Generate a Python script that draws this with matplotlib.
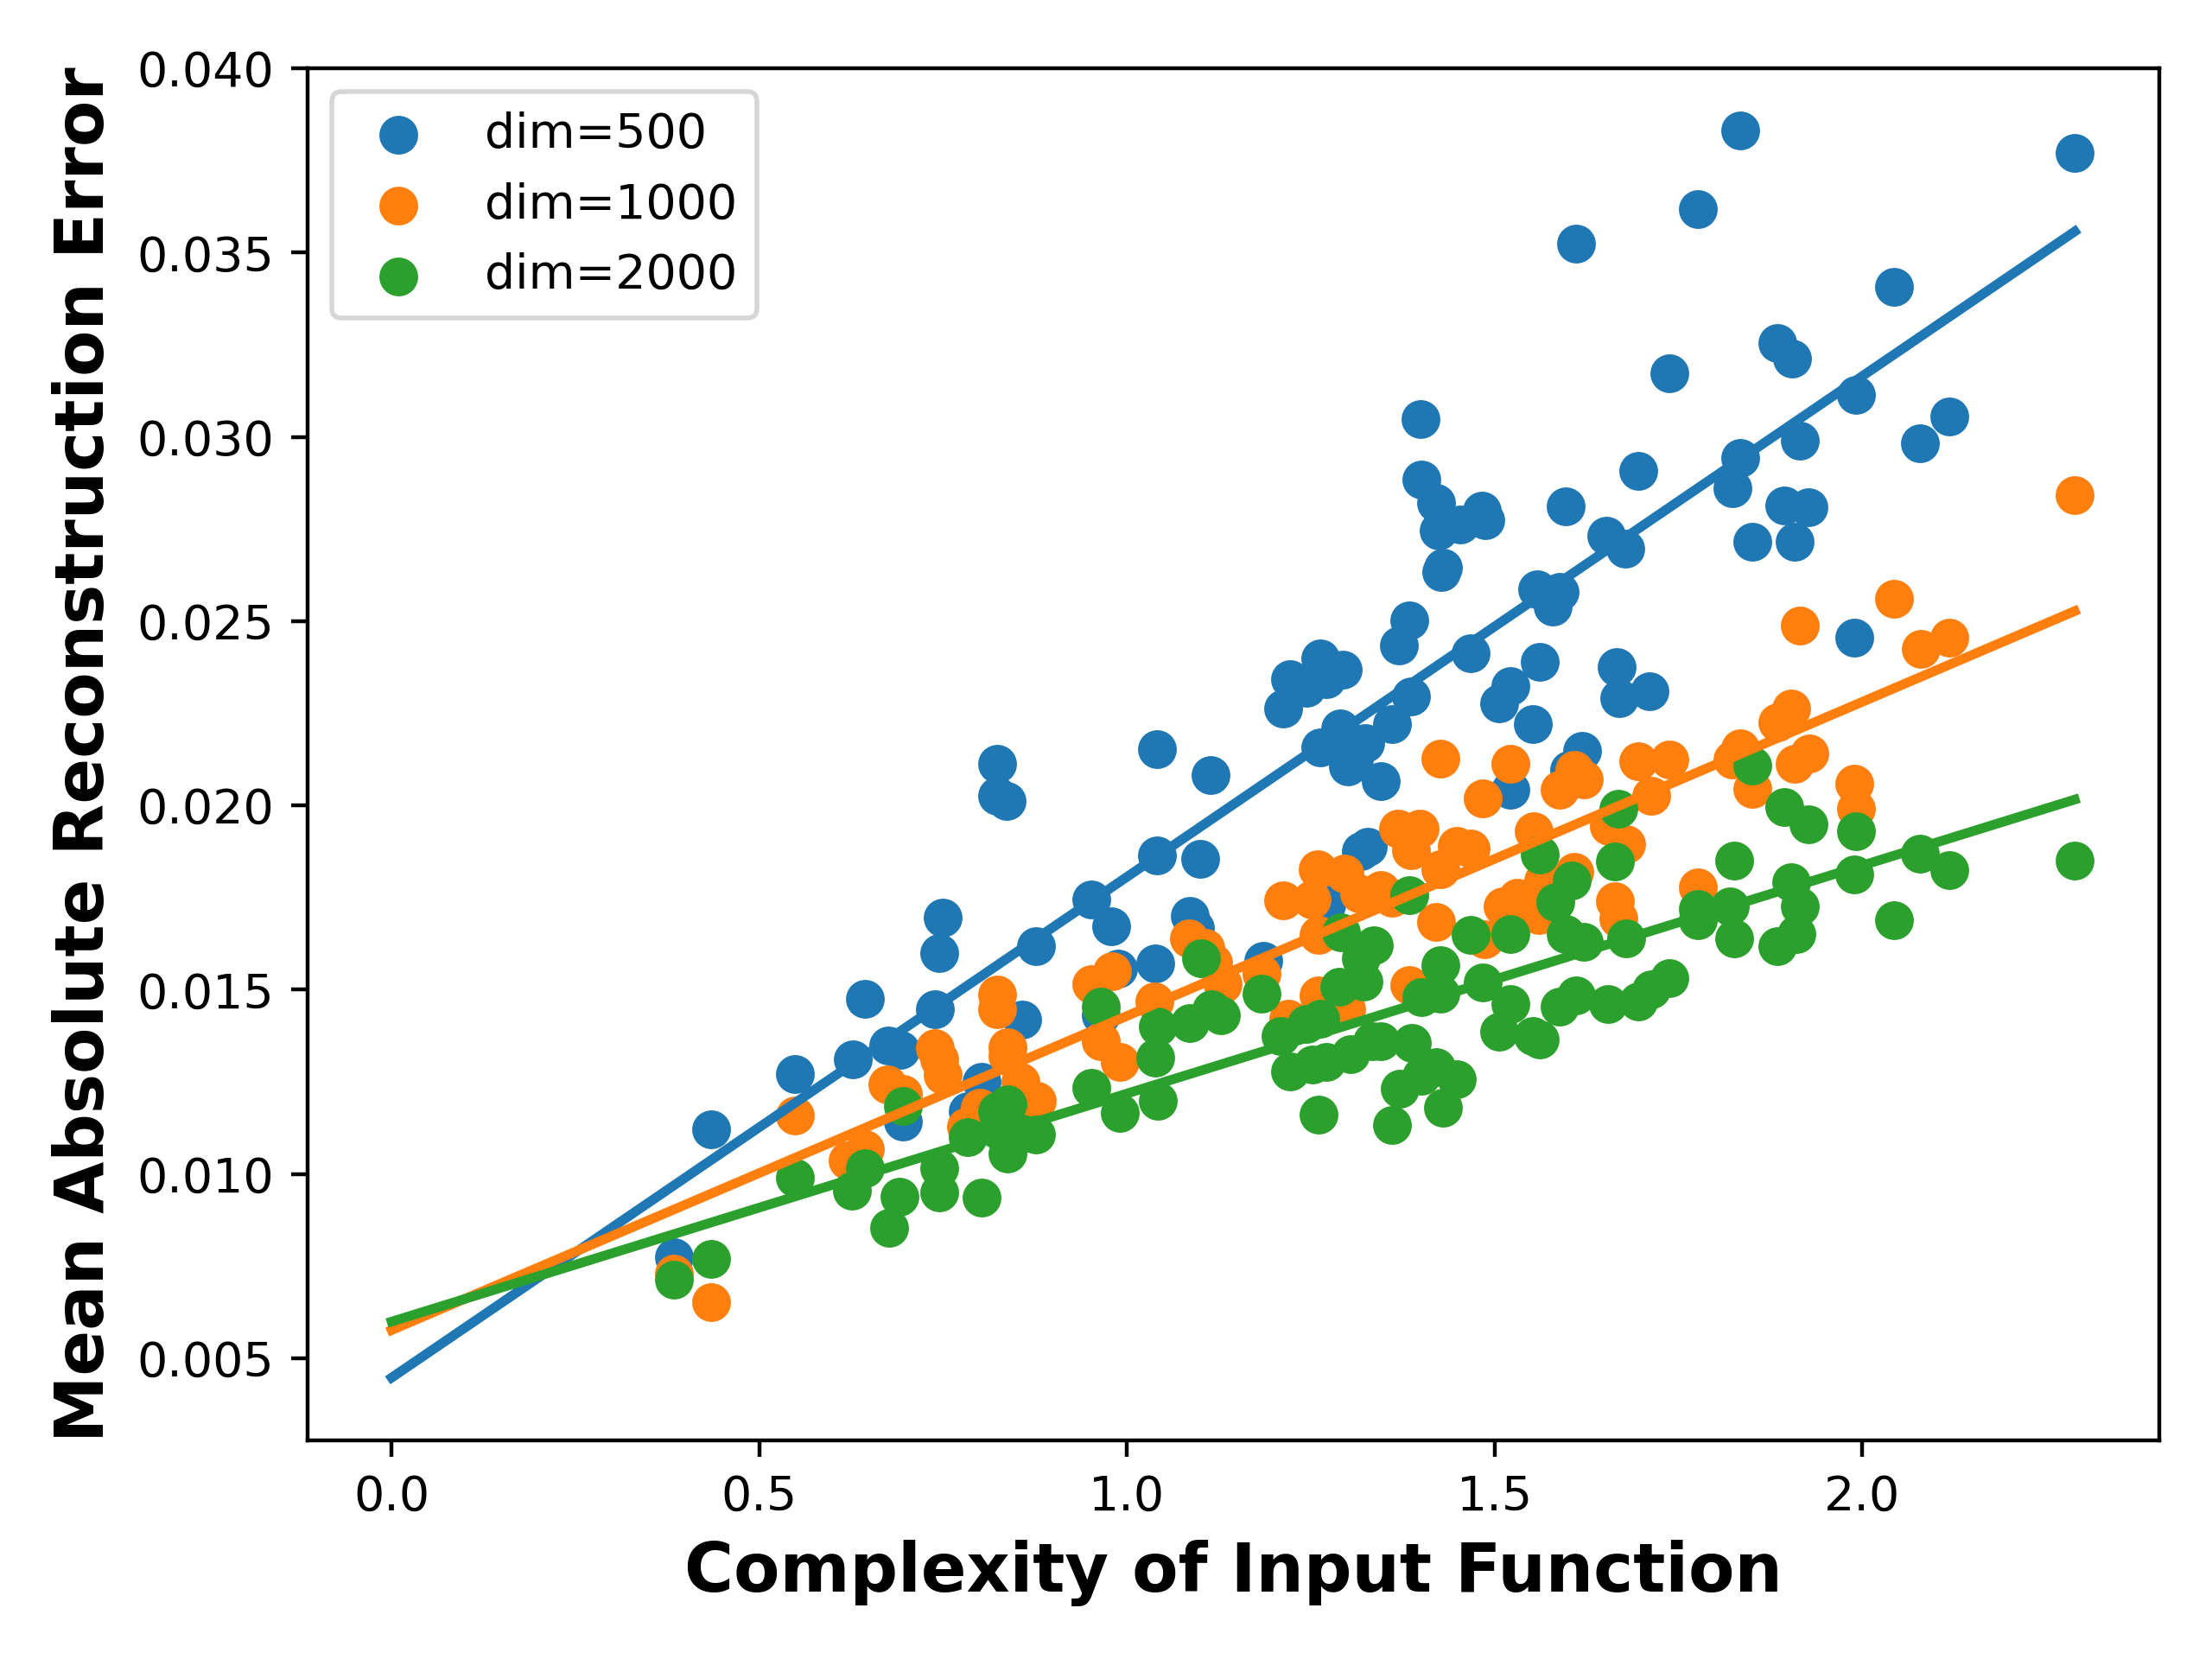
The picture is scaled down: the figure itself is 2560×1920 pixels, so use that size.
import numpy as np
import matplotlib
matplotlib.use('Agg')
import matplotlib.pyplot as plt

# complexity / error pairs, one pair of lists per dim
x_500 = [0.384, 0.435, 0.549, 0.627, 0.644, 0.675, 0.692, 0.695, 0.739, 0.745,
         0.750, 0.783, 0.802, 0.823, 0.823, 0.836, 0.857, 0.876, 0.951, 0.964,
         0.978, 0.988, 1.039, 1.041, 1.041, 1.085, 1.093, 1.100, 1.114, 1.185,
         1.212, 1.222, 1.244, 1.263, 1.263, 1.271, 1.271, 1.290, 1.294, 1.300,
         1.309, 1.318, 1.328, 1.324, 1.345, 1.361, 1.370, 1.384, 1.386, 1.399,
         1.400, 1.420, 1.424, 1.427, 1.430, 1.453, 1.467, 1.483, 1.487, 1.506,
         1.521, 1.521, 1.552, 1.558, 1.562, 1.579, 1.589, 1.597, 1.601, 1.611,
         1.619, 1.652, 1.666, 1.669, 1.678, 1.695, 1.711, 1.738, 1.777, 1.824,
         1.834, 1.834, 1.851, 1.885, 1.894, 1.904, 1.908, 1.915, 1.927, 1.989,
         1.992, 2.043, 2.079, 2.118, 2.289]
err_500 = [0.00774, 0.01122, 0.01272, 0.01310, 0.01474, 0.01349, 0.01337, 0.01142, 0.01448, 0.01600,
           0.01696, 0.01169, 0.01249, 0.02112, 0.02025, 0.02013, 0.01418, 0.01617, 0.01745, 0.01430,
           0.01671, 0.01558, 0.01570, 0.02152, 0.01864, 0.01700, 0.01668, 0.01856, 0.02082, 0.01578,
           0.02264, 0.02342, 0.02320, 0.02399, 0.02158, 0.02342, 0.01730, 0.02208, 0.02369, 0.02105,
           0.02124, 0.01876, 0.01887, 0.02170, 0.02065, 0.02221, 0.02433, 0.02502, 0.02295, 0.03049,
           0.02885, 0.02822, 0.02747, 0.02634, 0.02645, 0.02762, 0.02413, 0.02800, 0.02775, 0.02277,
           0.02323, 0.02042, 0.02221, 0.02586, 0.02390, 0.02540, 0.02579, 0.02812, 0.02097, 0.03524,
           0.02147, 0.02731, 0.02376, 0.02292, 0.02697, 0.02908, 0.02311, 0.03173, 0.03618, 0.02861,
           0.03832, 0.02943, 0.02716, 0.03255, 0.02814, 0.03212, 0.02716, 0.02990, 0.02810, 0.02455,
           0.03114, 0.03407, 0.02982, 0.03056, 0.03770]

x_1000 = [0.384, 0.435, 0.549, 0.620, 0.644, 0.674, 0.695, 0.739, 0.745, 0.750,
          0.781, 0.800, 0.823, 0.823, 0.837, 0.837, 0.855, 0.878, 0.951, 0.964,
          0.980, 0.990, 1.037, 1.084, 1.107, 1.117, 1.130, 1.183, 1.213, 1.220,
          1.251, 1.259, 1.261, 1.261, 1.293, 1.296, 1.298, 1.316, 1.345, 1.361,
          1.369, 1.384, 1.386, 1.398, 1.420, 1.426, 1.426, 1.449, 1.468, 1.484,
          1.486, 1.511, 1.521, 1.531, 1.553, 1.560, 1.566, 1.588, 1.609, 1.609,
          1.621, 1.656, 1.664, 1.668, 1.679, 1.695, 1.713, 1.738, 1.777, 1.824,
          1.834, 1.851, 1.885, 1.903, 1.908, 1.915, 1.928, 1.989, 1.992, 2.043,
          2.080, 2.118, 2.289]
err_1000 = [0.00730, 0.00653, 0.01159, 0.01036, 0.01068, 0.01243, 0.01218, 0.01341, 0.01310, 0.01268,
            0.01127, 0.01180, 0.01486, 0.01446, 0.01344, 0.01320, 0.01249, 0.01199, 0.01516, 0.01360,
            0.01550, 0.01305, 0.01469, 0.01640, 0.01613, 0.01574, 0.01516, 0.01543, 0.01742, 0.01422,
            0.01745, 0.01827, 0.01648, 0.01484, 0.01469, 0.01816, 0.01446, 0.01760, 0.01770, 0.01750,
            0.01937, 0.01512, 0.01879, 0.01937, 0.01683, 0.02128, 0.01827, 0.01891, 0.01883, 0.02019,
            0.01636, 0.01726, 0.02113, 0.01749, 0.01929, 0.01703, 0.01796, 0.02042, 0.02097, 0.01820,
            0.02070, 0.01944, 0.01740, 0.01692, 0.01894, 0.02120, 0.02027, 0.02124, 0.01777, 0.02124,
            0.02155, 0.02046, 0.02225, 0.02264, 0.02112, 0.02487, 0.02140, 0.02058, 0.01991, 0.02561,
            0.02424, 0.02455, 0.02842]

x_2000 = [0.384, 0.435, 0.549, 0.626, 0.644, 0.677, 0.691, 0.695, 0.745, 0.745,
          0.783, 0.802, 0.823, 0.823, 0.837, 0.837, 0.857, 0.876, 0.951, 0.964,
          0.990, 1.039, 1.042, 1.042, 1.086, 1.101, 1.115, 1.128, 1.183, 1.209,
          1.222, 1.244, 1.252, 1.261, 1.263, 1.271, 1.289, 1.291, 1.304, 1.318,
          1.322, 1.333, 1.336, 1.345, 1.361, 1.371, 1.384, 1.388, 1.400, 1.400,
          1.420, 1.426, 1.426, 1.430, 1.449, 1.467, 1.484, 1.506, 1.521, 1.521,
          1.552, 1.562, 1.562, 1.582, 1.588, 1.597, 1.605, 1.611, 1.621, 1.654,
          1.664, 1.668, 1.679, 1.695, 1.713, 1.738, 1.777, 1.777, 1.820, 1.826,
          1.826, 1.851, 1.885, 1.894, 1.903, 1.910, 1.915, 1.927, 1.989, 1.992,
          2.043, 2.079, 2.118, 2.289]
err_2000 = [0.00712, 0.00770, 0.00989, 0.00954, 0.01016, 0.00853, 0.00937, 0.01184, 0.01016, 0.00950,
            0.01100, 0.00935, 0.01170, 0.01120, 0.01188, 0.01055, 0.01110, 0.01106, 0.01234, 0.01453,
            0.01165, 0.01316, 0.01399, 0.01199, 0.01410, 0.01586, 0.01446, 0.01430, 0.01488, 0.01375,
            0.01277, 0.01406, 0.01297, 0.01160, 0.01422, 0.01305, 0.01509, 0.01656, 0.01324, 0.01586,
            0.01523, 0.01360, 0.01621, 0.01360, 0.01133, 0.01231, 0.01757, 0.01356, 0.01480, 0.01266,
            0.01290, 0.01566, 0.01488, 0.01180, 0.01258, 0.01648, 0.01520, 0.01387, 0.01652, 0.01461,
            0.01375, 0.01866, 0.01364, 0.01738, 0.01453, 0.01652, 0.01796, 0.01484, 0.01629, 0.01461,
            0.01847, 0.01990, 0.01640, 0.01469, 0.01500, 0.01531, 0.01718, 0.01688, 0.01726, 0.01850,
            0.01640, 0.02108, 0.01617, 0.01995, 0.01792, 0.01652, 0.01726, 0.01948, 0.01812, 0.01929,
            0.01688, 0.01870, 0.01824, 0.01850]

labels = ['dim=500', 'dim=1000', 'dim=2000']
# linear fit (intercept, slope)
fit_intercept = [0.00447, 0.00576, 0.00599]
fit_slope = [0.01359, 0.008525, 0.00619]

xs = [x_500, x_1000, x_2000]
ys = [err_500, err_1000, err_2000]

fig = plt.figure(figsize=(6.4, 4.8), dpi=400)
ax = fig.add_subplot(111)
fig.subplots_adjust(left=0.139, right=0.976, top=0.959, bottom=0.132)

for i in range(3):
    ax.scatter(xs[i], ys[i], s=50, color='C%d' % i, label=labels[i])

xmax = max(max(x) for x in xs)
xl = np.linspace(0, xmax, 50)
for i in range(3):
    ax.plot(xl, fit_intercept[i] + fit_slope[i] * xl, color='C%d' % i, lw=2)

ax.set_xlabel('Complexity of Input Function', fontsize=14, fontweight='bold')
ax.set_ylabel('Mean Absolute Reconstruction Error', fontsize=14, fontweight='bold')
ax.legend(loc='upper left')

fig.savefig('out.png', dpi=400)
